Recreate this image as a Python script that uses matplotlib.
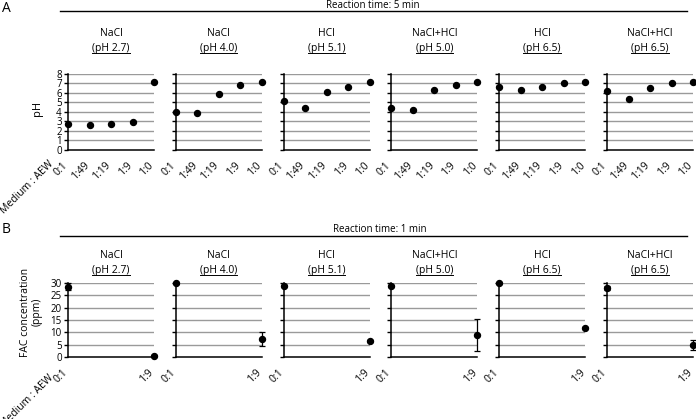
import matplotlib
matplotlib.use("Agg")
import matplotlib.pyplot as plt
from matplotlib.lines import Line2D
import matplotlib.transforms as mtransforms

plt.rcParams['font.family'] = ['Open Sans', 'DejaVu Sans']

# Data
groups = ["NaCl", "NaCl", "HCl", "NaCl+HCl", "HCl", "NaCl+HCl"]
group_ph = ["(pH 2.7)", "(pH 4.0)", "(pH 5.1)", "(pH 5.0)", "(pH 6.5)", "(pH 6.5)"]

ratios_5min = ["0:1", "1:49", "1:19", "1:9", "1:0"]
ph_5min = [
    [2.7, 2.6, 2.7, 2.9, 7.2],
    [4.0, 3.9, 5.9, 6.8, 7.2],
    [5.1, 4.4, 6.05, 6.6, 7.2],
    [4.45, 4.2, 6.3, 6.8, 7.2],
    [6.6, 6.3, 6.65, 7.0, 7.2],
    [6.2, 5.3, 6.5, 7.0, 7.2],
]

ratios_1min = ["0:1", "1:9"]
fac_1min = [
    [28.4, 0.7],
    [29.7, 7.5],
    [28.8, 6.6],
    [28.6, 9.0],
    [29.7, 11.9],
    [28.0, 5.0],
]
fac_1min_err = [
    [1.3, 0.2],
    [0.3, 2.8],
    [0.3, 0.3],
    [0.5, 6.3],
    [0.3, 0.3],
    [0.8, 2.1],
]

W, H = 696, 419
fig = plt.figure(figsize=(W / 100, H / 100), dpi=100)

FS = 7
grid_col = "#9a9a9a"


def fx(px):
    return px / W


def fy(py):
    return 1 - py / H


def style_axes(ax, ymax, ystep, show_labels):
    for s in ["top", "right"]:
        ax.spines[s].set_visible(False)
    ax.spines["left"].set_linewidth(1.1)
    ax.spines["bottom"].set_linewidth(1.1)
    ax.set_ylim(0, ymax)
    ax.set_yticks(range(0, ymax + 1, ystep))
    for v in range(ystep, ymax + 1, ystep):
        ax.axhline(v, color=grid_col, lw=1.0, zorder=0)
    ax.tick_params(axis="y", direction="out", length=3, width=1, pad=1.5,
                   labelsize=FS, labelleft=show_labels)
    ax.tick_params(axis="x", length=0, pad=0, labelsize=FS + 0.5)


def set_xlabels(ax, labels):
    ax.set_xticks(range(len(labels)))
    ax.set_xticklabels(labels, rotation=45, ha="right", va="center",
                       rotation_mode="anchor")
    off = mtransforms.ScaledTranslation(-2 / 100, -14 / 100, fig.dpi_scale_trans)
    for lab in ax.get_xticklabels():
        lab.set_transform(lab.get_transform() + off)


def panel_titles(ax, name, ph, y_name, y_ph):
    cx = ax.get_position().x0 + ax.get_position().width / 2
    fig.text(cx, fy(y_name), name, ha="center", va="center", fontsize=FS + 0.5)
    t = fig.text(cx, fy(y_ph), ph, ha="center", va="center", fontsize=FS + 0.5)
    return t


lefts = [68 + i * 107.8 for i in range(6)]
pw = 86
under_texts = []

# Panel A: pH after 5 min
for i in range(6):
    ax = fig.add_axes([fx(lefts[i]), fy(149.5), fx(pw), 75.5 / H])
    style_axes(ax, 8, 1, i == 0)
    x = list(range(len(ratios_5min)))
    ax.plot(x, ph_5min[i], "o", color="black", ms=4.3, clip_on=False, zorder=3)
    ax.set_xlim(0, len(ratios_5min) - 1)
    set_xlabels(ax, ratios_5min)
    under_texts.append(panel_titles(ax, groups[i], group_ph[i], 33, 48))

# Panel B: FAC after 1 min
for i in range(6):
    ax = fig.add_axes([fx(lefts[i]), fy(357.3), fx(pw), 74.6 / H])
    style_axes(ax, 30, 5, i == 0)
    x = list(range(len(ratios_1min)))
    ax.errorbar(x, fac_1min[i], yerr=fac_1min_err[i], fmt="o", color="black",
                ms=4.3, elinewidth=0.9, capsize=2, capthick=0.9, clip_on=False,
                zorder=3)
    ax.set_xlim(0, len(ratios_1min) - 1)
    set_xlabels(ax, ratios_1min)
    under_texts.append(panel_titles(ax, groups[i], group_ph[i], 255, 270))

# Axis labels
fig.text(fx(38), fy(108), "pH", rotation=90, ha="center", va="center", fontsize=FS + 1)
fig.text(fx(31), fy(312), "FAC concentration\n(ppm)", rotation=90, ha="center",
         va="center", multialignment="center", fontsize=FS + 0.5, linespacing=1.1)
for yy in [162, 376]:
    fig.text(fx(52), fy(yy), "Medium : AEW", rotation=45, ha="right", va="center",
             rotation_mode="anchor", fontsize=FS + 0.5)

# Header lines and panel letters
for letter, ly, label, tx, ty, liney in [
    ("A", 8, "Reaction time: 5 min", 373, 5, 11),
    ("B", 229, "Reaction time: 1 min", 380, 229, 236),
]:
    fig.text(fx(2), fy(ly), letter, ha="left", va="center", fontsize=10)
    fig.text(fx(tx), fy(ty), label, ha="center", va="center", fontsize=FS)
    fig.add_artist(Line2D([fx(60), fx(687)], [fy(liney), fy(liney)],
                          transform=fig.transFigure, color="black", lw=1))

# Underline the pH labels
fig.canvas.draw()
r = fig.canvas.get_renderer()
for t in under_texts:
    bb = t.get_window_extent(r)
    yline = bb.y0 + 0.5
    fig.add_artist(Line2D([bb.x0 / W, bb.x1 / W], [yline / H, yline / H],
                          transform=fig.transFigure, color="black", lw=0.7))

fig.savefig("out.png", dpi=100)
